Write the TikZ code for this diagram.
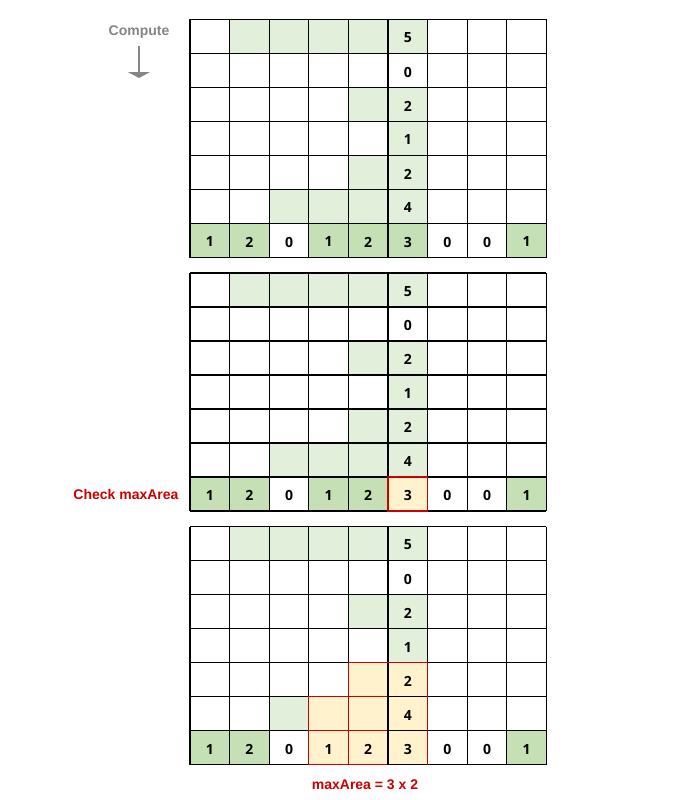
\documentclass[tikz,border=0pt]{standalone}
\usepackage{fontspec}
\setmainfont{Liberation Sans}
\newfontfamily\cellfont{Open Sans}
\usetikzlibrary{arrows.meta}
\definecolor{litegreen}{HTML}{E2EFDA}
\definecolor{darkgreen}{HTML}{C5E0B4}
\definecolor{liteyellow}{HTML}{FFF2CC}
\definecolor{markred}{HTML}{CC0000}
\definecolor{labelgray}{HTML}{858585}

\begin{document}
\begin{tikzpicture}[x=1pt, y=-1pt,
  gridline/.style={draw=black, line width=1.2pt},
  redline/.style={draw=markred, line width=1.2pt},
  val/.style={font=\cellfont\bfseries\fontsize{14}{16}\selectfont, inner sep=0pt},
  redlabel/.style={text=markred, font=\bfseries\fontsize{14}{16}\selectfont},
  graylabel/.style={text=labelgray, font=\bfseries\fontsize{14}{16}\selectfont},
  grayarrow/.style={draw=labelgray, line width=2pt, -{Triangle[width=22pt, length=6pt]}}]

  \useasboundingbox (0, 0) rectangle (700, 800);

  % Label and arrow
  \node[graylabel] (compute) at (139, 32) {Compute};
  \coordinate (arrowtop) at (139, 46);
  \coordinate (arrowend) at (139, 78);
  \draw[grayarrow] (arrowtop) -- (arrowend);

  % Grid 1
  \fill[litegreen] (190 + 1 * 39.6, 19.5 + 0 * 34) rectangle ++(5 * 39.6, 34);
  \fill[litegreen] (190 + 4 * 39.6, 19.5 + 2 * 34) rectangle ++(2 * 39.6, 34);
  \fill[litegreen] (190 + 5 * 39.6, 19.5 + 3 * 34) rectangle ++(1 * 39.6, 34);
  \fill[litegreen] (190 + 4 * 39.6, 19.5 + 4 * 34) rectangle ++(2 * 39.6, 34);
  \fill[litegreen] (190 + 2 * 39.6, 19.5 + 5 * 34) rectangle ++(4 * 39.6, 34);
  \fill[darkgreen] (190 + 0 * 39.6, 19.5 + 6 * 34) rectangle ++(2 * 39.6, 34);
  \fill[darkgreen] (190 + 3 * 39.6, 19.5 + 6 * 34) rectangle ++(3 * 39.6, 34);
  \fill[darkgreen] (190 + 8 * 39.6, 19.5 + 6 * 34) rectangle ++(1 * 39.6, 34);

  \foreach \c in {0,...,9} \draw[gridline] (190 + \c * 39.6, 19.5) -- ++(0, 7 * 34);
  \foreach \r in {0,...,7} \draw[gridline] (190, 19.5 + \r * 34) -- ++(9 * 39.6, 0);

  \node[val] (g1_v1) at (190 + 5.5 * 39.6, 21 + 0.5 * 34) {5};
  \node[val] (g1_v2) at (190 + 5.5 * 39.6, 21 + 1.5 * 34) {0};
  \node[val] (g1_v3) at (190 + 5.5 * 39.6, 21 + 2.5 * 34) {2};
  \node[val] (g1_v4) at (190 + 5.5 * 39.6, 21 + 3.5 * 34) {1};
  \node[val] (g1_v5) at (190 + 5.5 * 39.6, 21 + 4.5 * 34) {2};
  \node[val] (g1_v6) at (190 + 5.5 * 39.6, 21 + 5.5 * 34) {4};
  \node[val] (g1_b1) at (190 + 0.5 * 39.6, 21 + 6.5 * 34) {1};
  \node[val] (g1_b2) at (190 + 1.5 * 39.6, 21 + 6.5 * 34) {2};
  \node[val] (g1_b3) at (190 + 2.5 * 39.6, 21 + 6.5 * 34) {0};
  \node[val] (g1_b4) at (190 + 3.5 * 39.6, 21 + 6.5 * 34) {1};
  \node[val] (g1_b5) at (190 + 4.5 * 39.6, 21 + 6.5 * 34) {2};
  \node[val] (g1_b6) at (190 + 5.5 * 39.6, 21 + 6.5 * 34) {3};
  \node[val] (g1_b7) at (190 + 6.5 * 39.6, 21 + 6.5 * 34) {0};
  \node[val] (g1_b8) at (190 + 7.5 * 39.6, 21 + 6.5 * 34) {0};
  \node[val] (g1_b9) at (190 + 8.5 * 39.6, 21 + 6.5 * 34) {1};

  % Grid 2
  \fill[litegreen] (190 + 1 * 39.6, 273 + 0 * 34) rectangle ++(5 * 39.6, 34);
  \fill[litegreen] (190 + 4 * 39.6, 273 + 2 * 34) rectangle ++(2 * 39.6, 34);
  \fill[litegreen] (190 + 5 * 39.6, 273 + 3 * 34) rectangle ++(1 * 39.6, 34);
  \fill[litegreen] (190 + 4 * 39.6, 273 + 4 * 34) rectangle ++(2 * 39.6, 34);
  \fill[litegreen] (190 + 2 * 39.6, 273 + 5 * 34) rectangle ++(4 * 39.6, 34);
  \fill[darkgreen] (190 + 0 * 39.6, 273 + 6 * 34) rectangle ++(2 * 39.6, 34);
  \fill[darkgreen] (190 + 3 * 39.6, 273 + 6 * 34) rectangle ++(2 * 39.6, 34);
  \fill[liteyellow] (190 + 5 * 39.6, 273 + 6 * 34) rectangle ++(1 * 39.6, 34);
  \fill[darkgreen] (190 + 8 * 39.6, 273 + 6 * 34) rectangle ++(1 * 39.6, 34);

  \foreach \c in {0,...,9} \draw[gridline] (190 + \c * 39.6, 273) -- ++(0, 7 * 34);
  \foreach \r in {0,...,7} \draw[gridline] (190, 273 + \r * 34) -- ++(9 * 39.6, 0);
  \draw[redline] (190 + 5 * 39.6, 273 + 6 * 34) rectangle ++(1 * 39.6, 34);

  \node[val] (g2_v1) at (190 + 5.5 * 39.6, 274.5 + 0.5 * 34) {5};
  \node[val] (g2_v2) at (190 + 5.5 * 39.6, 274.5 + 1.5 * 34) {0};
  \node[val] (g2_v3) at (190 + 5.5 * 39.6, 274.5 + 2.5 * 34) {2};
  \node[val] (g2_v4) at (190 + 5.5 * 39.6, 274.5 + 3.5 * 34) {1};
  \node[val] (g2_v5) at (190 + 5.5 * 39.6, 274.5 + 4.5 * 34) {2};
  \node[val] (g2_v6) at (190 + 5.5 * 39.6, 274.5 + 5.5 * 34) {4};
  \node[val] (g2_b1) at (190 + 0.5 * 39.6, 274.5 + 6.5 * 34) {1};
  \node[val] (g2_b2) at (190 + 1.5 * 39.6, 274.5 + 6.5 * 34) {2};
  \node[val] (g2_b3) at (190 + 2.5 * 39.6, 274.5 + 6.5 * 34) {0};
  \node[val] (g2_b4) at (190 + 3.5 * 39.6, 274.5 + 6.5 * 34) {1};
  \node[val] (g2_b5) at (190 + 4.5 * 39.6, 274.5 + 6.5 * 34) {2};
  \node[val] (g2_b6) at (190 + 5.5 * 39.6, 274.5 + 6.5 * 34) {3};
  \node[val] (g2_b7) at (190 + 6.5 * 39.6, 274.5 + 6.5 * 34) {0};
  \node[val] (g2_b8) at (190 + 7.5 * 39.6, 274.5 + 6.5 * 34) {0};
  \node[val] (g2_b9) at (190 + 8.5 * 39.6, 274.5 + 6.5 * 34) {1};

  \node[redlabel] (check) at (126, 273 + 6.5 * 34) {Check maxArea};

  % Grid 3
  \fill[litegreen] (190 + 1 * 39.6, 526.5 + 0 * 34) rectangle ++(5 * 39.6, 34);
  \fill[litegreen] (190 + 4 * 39.6, 526.5 + 2 * 34) rectangle ++(2 * 39.6, 34);
  \fill[litegreen] (190 + 5 * 39.6, 526.5 + 3 * 34) rectangle ++(1 * 39.6, 34);
  \fill[liteyellow] (190 + 4 * 39.6, 526.5 + 4 * 34) rectangle ++(2 * 39.6, 34);
  \fill[litegreen] (190 + 2 * 39.6, 526.5 + 5 * 34) rectangle ++(1 * 39.6, 34);
  \fill[liteyellow] (190 + 3 * 39.6, 526.5 + 5 * 34) rectangle ++(3 * 39.6, 2 * 34);
  \fill[darkgreen] (190 + 0 * 39.6, 526.5 + 6 * 34) rectangle ++(2 * 39.6, 34);
  \fill[darkgreen] (190 + 8 * 39.6, 526.5 + 6 * 34) rectangle ++(1 * 39.6, 34);

  \foreach \c in {0,...,9} \draw[gridline] (190 + \c * 39.6, 526.5) -- ++(0, 7 * 34);
  \foreach \r in {0,...,7} \draw[gridline] (190, 526.5 + \r * 34) -- ++(9 * 39.6, 0);
  \draw[redline] (190 + 4 * 39.6, 526.5 + 4 * 34) rectangle ++(1 * 39.6, 34);
  \draw[redline] (190 + 3 * 39.6, 526.5 + 5 * 34) rectangle ++(1 * 39.6, 34);
  \draw[redline] (190 + 4 * 39.6, 526.5 + 5 * 34) rectangle ++(1 * 39.6, 34);
  \draw[redline] (190 + 3 * 39.6, 526.5 + 6 * 34) rectangle ++(1 * 39.6, 34);
  \draw[redline] (190 + 4 * 39.6, 526.5 + 6 * 34) rectangle ++(1 * 39.6, 34);
  \draw[gridline] (190 + 5 * 39.6, 526.5 + 4 * 34) -- ++(0, 3 * 34);
  \draw[redline] (190 + 5 * 39.6, 526.5 + 4 * 34) -- ++(39.6, 0) -- ++(0, 3 * 34);

  \node[val] (g3_v1) at (190 + 5.5 * 39.6, 528 + 0.5 * 34) {5};
  \node[val] (g3_v2) at (190 + 5.5 * 39.6, 528 + 1.5 * 34) {0};
  \node[val] (g3_v3) at (190 + 5.5 * 39.6, 528 + 2.5 * 34) {2};
  \node[val] (g3_v4) at (190 + 5.5 * 39.6, 528 + 3.5 * 34) {1};
  \node[val] (g3_v5) at (190 + 5.5 * 39.6, 528 + 4.5 * 34) {2};
  \node[val] (g3_v6) at (190 + 5.5 * 39.6, 528 + 5.5 * 34) {4};
  \node[val] (g3_b1) at (190 + 0.5 * 39.6, 528 + 6.5 * 34) {1};
  \node[val] (g3_b2) at (190 + 1.5 * 39.6, 528 + 6.5 * 34) {2};
  \node[val] (g3_b3) at (190 + 2.5 * 39.6, 528 + 6.5 * 34) {0};
  \node[val] (g3_b4) at (190 + 3.5 * 39.6, 528 + 6.5 * 34) {1};
  \node[val] (g3_b5) at (190 + 4.5 * 39.6, 528 + 6.5 * 34) {2};
  \node[val] (g3_b6) at (190 + 5.5 * 39.6, 528 + 6.5 * 34) {3};
  \node[val] (g3_b7) at (190 + 6.5 * 39.6, 528 + 6.5 * 34) {0};
  \node[val] (g3_b8) at (190 + 7.5 * 39.6, 528 + 6.5 * 34) {0};
  \node[val] (g3_b9) at (190 + 8.5 * 39.6, 528 + 6.5 * 34) {1};

  \node[redlabel] (result) at (365, 785) {maxArea = 3 x 2};
\end{tikzpicture}
\end{document}
